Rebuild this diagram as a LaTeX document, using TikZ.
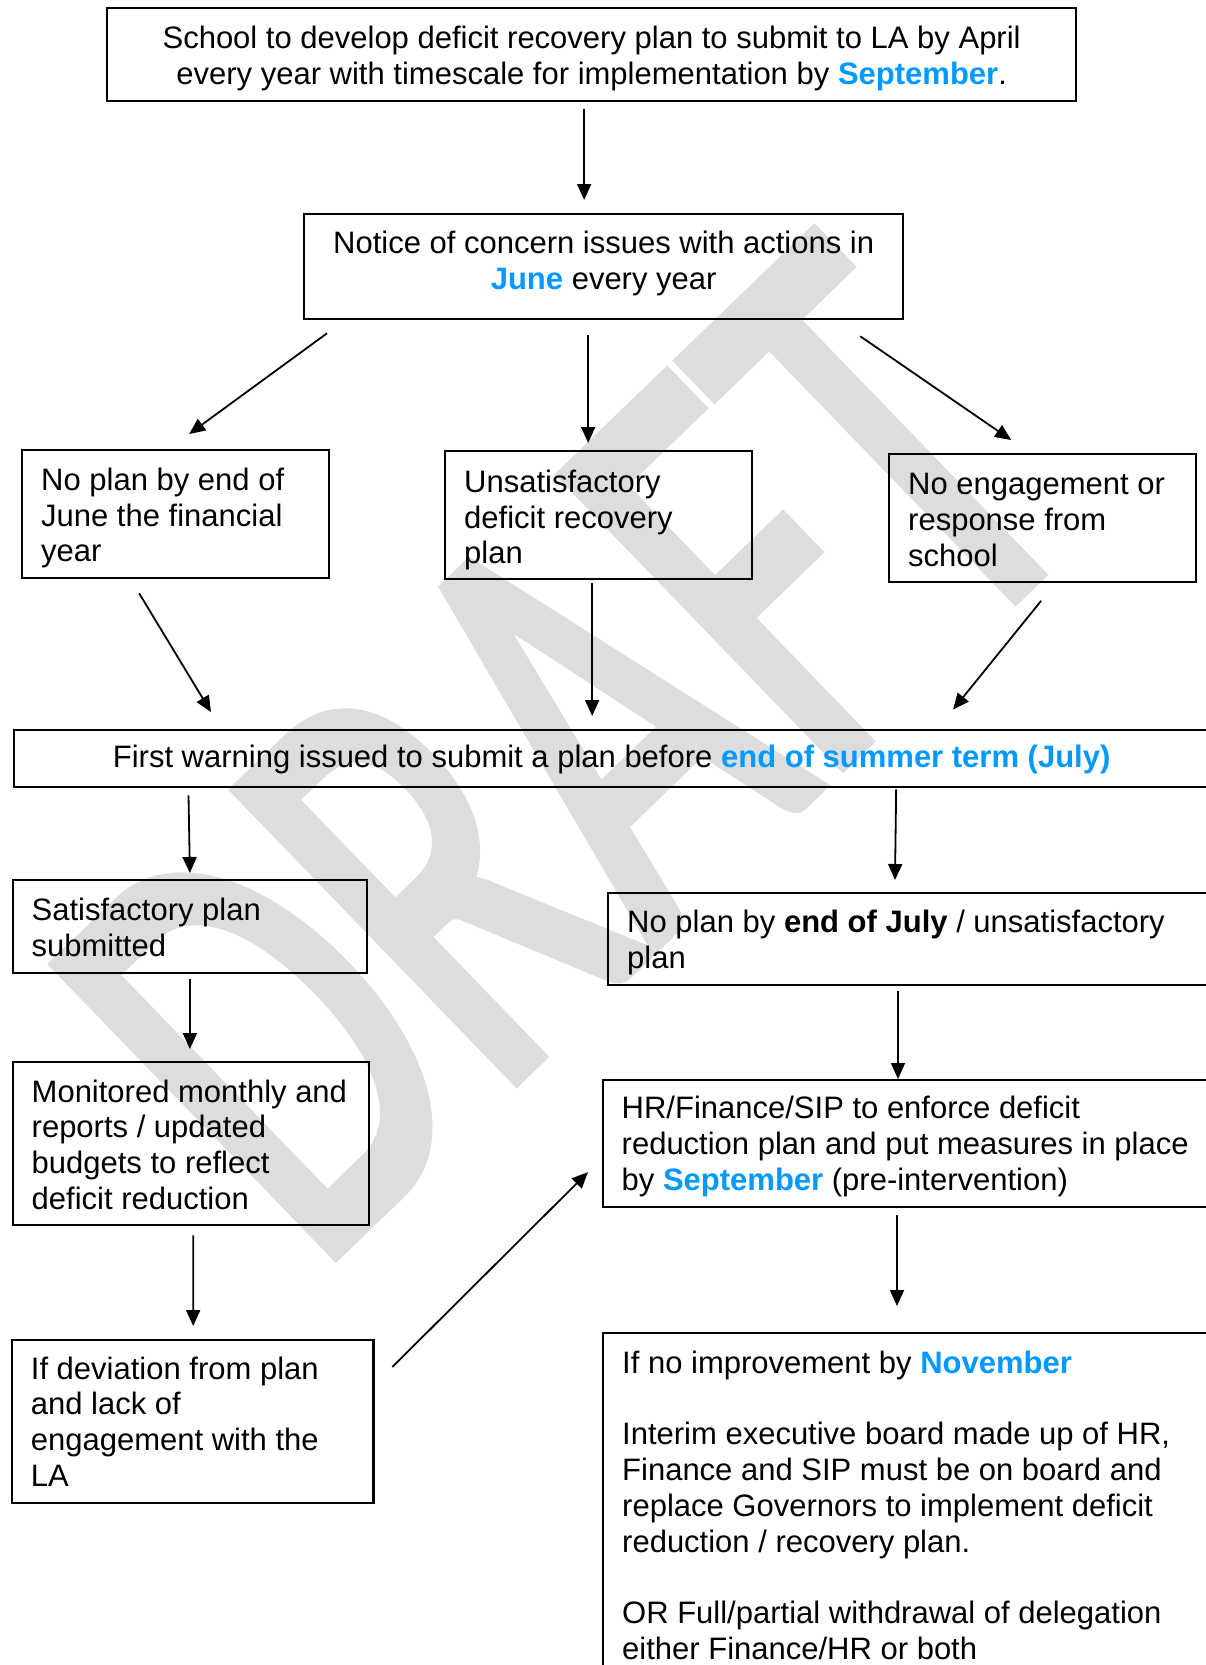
\documentclass[tikz,border=0pt]{standalone}
\usepackage{fontspec}
\setmainfont{Liberation Sans}
\newfontfamily\wmfont{Carlito}[FakeBold=2.3]
\usetikzlibrary{arrows.meta,calc}
\definecolor{hl}{RGB}{0,153,255}
\definecolor{wm}{RGB}{221,221,221}
\newcommand{\hlb}[1]{\textcolor{hl}{\textbf{#1}}}
\begin{document}
\begin{tikzpicture}[x=1pt,y=-1pt,
  box/.style={draw, line width=2.3pt, inner sep=0pt, anchor=north west},
  txt/.style={inner sep=0pt, font=\fontsize{31}{35.8}\selectfont},
  txtl/.style={txt, align=left, anchor=west},
  txtc/.style={txt, align=center},
  wmark/.style={text=wm, font=\wmfont\fontsize{100}{100}\selectfont, inner sep=0pt,
      xscale=4.06, yscale=6.25, transform shape},
  arr/.style={line width=1.8pt, -{Triangle[length=16pt,width=14pt]}}]
\useasboundingbox (0,0) rectangle (1206,1665);
\clip (0,0) rectangle (1206,1665);
\fill[white] (0,0) rectangle (1206,1665);
% watermark
\begin{scope}[shift={(567,751)}, rotate=44]
\node[wmark] (wm) at (0,0) {DRAFT};
\end{scope}
% boxes
\node[box, minimum width=969pt, minimum height=93pt] (b1) at (106,7) {};
\node[box, minimum width=599pt, minimum height=105pt] (b2) at (303,213) {};
\node[box, minimum width=307pt, minimum height=128pt] (b3) at (21,449) {};
\node[box, minimum width=307pt, minimum height=128pt] (b4) at (444,450) {};
\node[box, minimum width=307pt, minimum height=128pt] (b5) at (888,453) {};
\node[box, minimum width=1195pt, minimum height=57pt] (b6) at (13,729) {};
\node[box, minimum width=354.5pt, minimum height=93pt] (b7) at (11.5,879) {};
\node[box, minimum width=613pt, minimum height=92pt] (b8) at (607,892) {};
\node[box, minimum width=356.5pt, minimum height=163pt] (b9) at (11.5,1061) {};
\node[box, minimum width=620pt, minimum height=127pt] (b10) at (601.5,1079) {};
\node[box, minimum width=361.7pt, minimum height=162.7pt] (b11) at (10.7,1339) {};
\node[box, minimum width=620pt, minimum height=380pt] (b12) at (602,1332) {};
% texts
\node[txtc] (t1) at ($(b1.center)+(0,4)$) {School to develop deficit recovery plan to submit to LA by April\\every year with timescale for implementation by \hlb{September}.};
\node[txtc] (t2) at ($(b2.center)+(0,-3)$) {Notice of concern issues with actions in\\\hlb{June} every year};
\node[txtl] (t3) at ($(b3.west)+(20,4)$) {No plan by end of\\June the financial\\year};
\node[txtl] (t4) at ($(b4.west)+(20,5)$) {Unsatisfactory\\deficit recovery\\plan};
\node[txtl] (t5) at ($(b5.west)+(20,2)$) {No engagement or\\response from\\school};
\node[txtc] (t6) at ($(b6.center)+(0,1)$) {First warning issued to submit a plan before \hlb{end of summer term (July)}};
\node[txtl] (t7) at ($(b7.west)+(20,1)$) {Satisfactory plan\\submitted};
\node[txtl] (t8) at ($(b8.west)+(20,3)$) {No plan by \textbf{end of July} / unsatisfactory\\plan};
\node[txtl] (t9) at ($(b9.west)+(20,1)$) {Monitored monthly and\\reports / updated\\budgets to reflect\\deficit reduction};
\node[txtl] (t10) at ($(b10.north west)+(20,67.5)$) {HR/Finance/SIP to enforce deficit\\reduction plan and put measures in place\\by \hlb{September} (pre-intervention)};
\node[txtl] (t11) at ($(b11.west)+(20,0)$) {If deviation from plan\\and lack of\\engagement with the\\LA};
\node[txt, align=left, anchor=north west] (t12) at ($(b12.north west)+(20,16)$) {\rule{0pt}{25pt}If no improvement by \hlb{November}\\[35.8pt]Interim executive board made up of HR,\\Finance and SIP must be on board and\\replace Governors to implement deficit\\reduction / recovery plan.\\[35.8pt]OR Full/partial withdrawal of delegation\\either Finance/HR or both};
% connectors
\draw[arr] ($(b1.south)+(-7.5,7)$) -- ($(b2.north)+(-19.5,-13)$);
\draw[arr] ($(b2.south west)+(24,13)$) -- ($(b3.north)+(13.5,-15)$);
\draw[arr] ($(b2.south)+(-15.5,15)$) -- ($(b4.north)+(-10.5,-7)$);
\draw[arr] ($(b2.south east)+(-44,16)$) -- ($(b5.north)+(-31.5,-13)$);
\draw[arr] ($(b3.south)+(-36.5,14)$) -- ($(b6.north west)+(198,-17)$);
\draw[arr] ($(b4.south)+(-6.5,3)$) -- ($(b6.north)+(-19.5,-13)$);
\draw[arr] ($(b5.south)+(-1.5,17.5)$) -- ($(b6.north)+(341.5,-19.5)$);
\draw[arr] ($(b6.south west)+(175.5,7)$) -- ($(b7.north)+(0,-6)$);
\draw[arr] ($(b6.south)+(284.5,1)$) -- ($(b8.north west)+(288,-12)$);
\draw[arr] ($(b7.south)+(0,5)$) -- ($(b9.north)+(-1,-12)$);
\draw[arr] ($(b8.south west)+(291,4.5)$) -- ($(b10.north west)+(296.5,0)$);
\draw[arr] ($(b9.south)+(2.25,9)$) -- ($(b11.north)+(0.45,-13)$);
\draw[arr] ($(b11.north east)+(17.6,28)$) -- ($(b10.west)+(-13.5,28.5)$);
\draw[arr] ($(b10.south west)+(295.5,7)$) -- ($(b12.north west)+(295,-26)$);
\end{tikzpicture}
\end{document}
